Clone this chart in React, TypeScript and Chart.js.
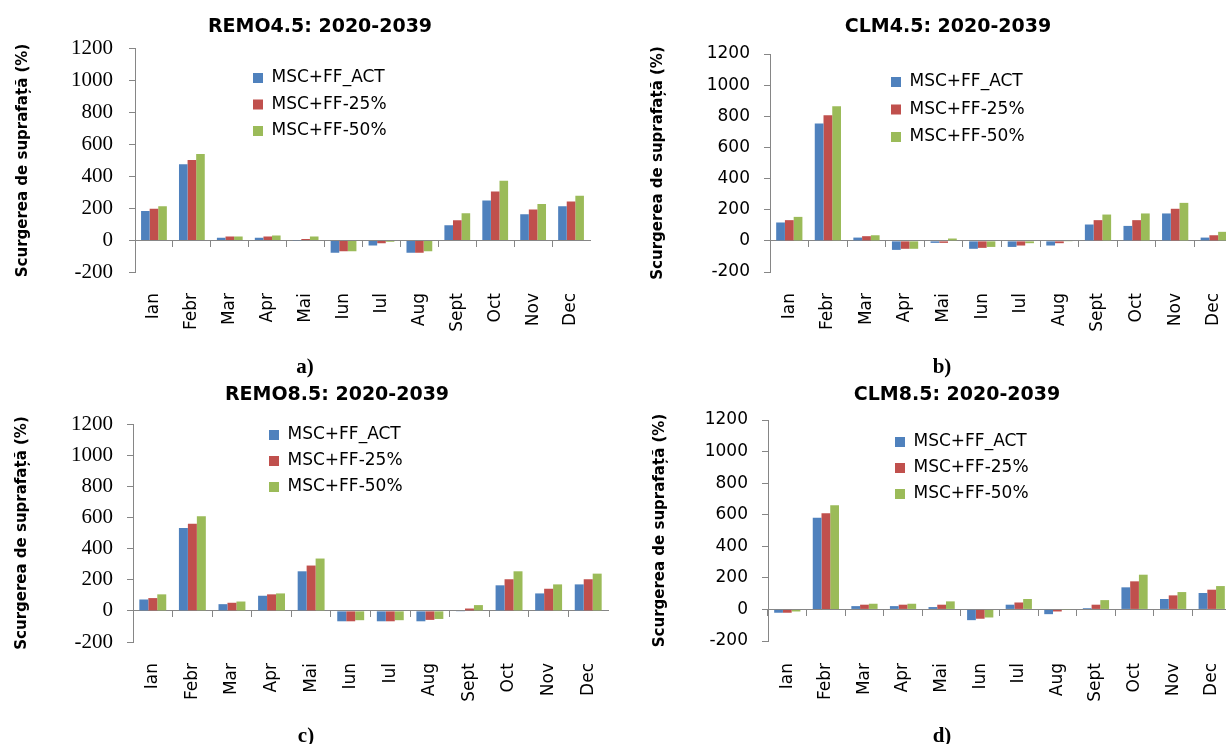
import React, { useEffect, useRef } from "react";
import { Chart, registerables } from "chart.js";

Chart.register(...registerables);

// Month categories shared by all four panels
const months = ["Ian", "Febr", "Mar", "Apr", "Mai", "Iun", "Iul", "Aug", "Sept", "Oct", "Nov", "Dec"];
const seriesNames = ["MSC+FF_ACT", "MSC+FF-25%", "MSC+FF-50%"];
const seriesColors = ["#4F81BD", "#C0504D", "#9BBB59"];
const yMin = -200;
const yMax = 1200;
const yStep = 200;

// REMO4.5: 2020-2039
const remo45Act = [185, 476, 17, 17, 2, -77, -31, -77, 96, 250, 164, 214];
const remo45Ff25 = [199, 503, 25, 25, 10, -67, -17, -77, 126, 306, 193, 243];
const remo45Ff50 = [214, 541, 25, 31, 25, -67, -8, -67, 170, 373, 228, 279];

// CLM4.5: 2020-2039
const clm45Act = [118, 754, 21, -58, -13, -51, -39, -30, 105, 96, 176, 21];
const clm45Ff25 = [133, 807, 30, -51, -13, -45, -30, -15, 133, 133, 206, 36];
const clm45Ff50 = [154, 865, 36, -51, 15, -39, -15, -2, 169, 176, 244, 58];

// REMO8.5: 2020-2039
const remo85Act = [73, 532, 43, 97, 254, -67, -67, -67, -2, 164, 112, 170];
const remo85Ff25 = [82, 560, 52, 106, 291, -67, -67, -58, 15, 203, 142, 203];
const remo85Ff50 = [106, 608, 60, 112, 336, -60, -60, -52, 37, 254, 170, 239];

// CLM8.5: 2020-2039
const clm85Act = [-21, 581, 21, 21, 15, -68, 30, -30, 8, 140, 66, 104];
const clm85Ff25 = [-21, 609, 30, 30, 30, -59, 44, -13, 30, 178, 89, 125];
const clm85Ff50 = [-13, 660, 36, 36, 51, -51, 66, -2, 59, 220, 110, 148];

const axisGray = "#868686";
const sansFamily = "'DejaVu Sans', 'Noto Sans', sans-serif";
const serifFamily = "'Liberation Serif', 'DejaVu Serif', serif";

type Layout = {
  left: number;
  top: number;
  width: number;
  height: number;
  yAxisWidth: number;
  rightGap: number;
  titleTop: number;
  titleBottom: number;
  xAxisHeight: number;
  xPad: number;
  yTitlePad: number;
  yTickPad: number;
  yTickSerif: boolean;
  legendX: number;
  legendY: number;
  legendPad: number;
};

type PanelCfg = {
  title: string;
  series: number[][];
  layout: Layout;
};

const panels: PanelCfg[] = [
  {
    title: "REMO4.5: 2020-2039",
    series: [remo45Act, remo45Ff25, remo45Ff50],
    layout: {
      left: 0, top: 0, width: 640, height: 345,
      yAxisWidth: 135, rightGap: 50,
      titleTop: 15.6, titleBottom: 10.1,
      xAxisHeight: 72.5, xPad: 20.5,
      yTitlePad: 14, yTickPad: 16, yTickSerif: true,
      legendX: 243.5, legendY: 60, legendPad: 9.5,
    },
  },
  {
    title: "CLM4.5: 2020-2039",
    series: [clm45Act, clm45Ff25, clm45Ff50],
    layout: {
      left: 640, top: 0, width: 616, height: 345,
      yAxisWidth: 130, rightGap: 20,
      titleTop: 15.6, titleBottom: 15.6,
      xAxisHeight: 73, xPad: 21,
      yTitlePad: 9, yTickPad: 14, yTickSerif: false,
      legendX: 240.5, legendY: 63, legendPad: 10.5,
    },
  },
  {
    title: "REMO8.5: 2020-2039",
    series: [remo85Act, remo85Ff25, remo85Ff50],
    layout: {
      left: 0, top: 370, width: 674, height: 345,
      yAxisWidth: 133, rightGap: 66,
      titleTop: 13.6, titleBottom: 17.6,
      xAxisHeight: 73, xPad: 21,
      yTitlePad: 13, yTickPad: 14, yTickSerif: true,
      legendX: 260, legendY: 47.5, legendPad: 9,
    },
  },
  {
    title: "CLM8.5: 2020-2039",
    series: [clm85Act, clm85Ff25, clm85Ff50],
    layout: {
      left: 640, top: 370, width: 634, height: 345,
      yAxisWidth: 128, rightGap: 43,
      titleTop: 13.6, titleBottom: 13.6,
      xAxisHeight: 74, xPad: 22,
      yTitlePad: 11, yTickPad: 14, yTickSerif: false,
      legendX: 246, legendY: 54.5, legendPad: 9,
    },
  },
];

const captions = [
  { text: "a)", x: 305, y: 366 },
  { text: "b)", x: 942, y: 366 },
  { text: "c)", x: 306, y: 735 },
  { text: "d)", x: 942, y: 735 },
];

function Panel({ cfg }: { cfg: PanelCfg }) {
  const ref = useRef<HTMLCanvasElement>(null);
  const L = cfg.layout;

  useEffect(() => {
    const canvas = ref.current;
    if (!canvas) return;

    // moves the legend block to its spot inside the plot area
    const placeLegend = {
      id: "placeLegend",
      afterLayout(chart: any) {
        const lg = chart.legend;
        if (!lg) return;
        lg.left = L.legendX;
        lg.top = L.legendY;
        lg.right = L.legendX + 220;
        lg.bottom = L.legendY + 160;
      },
    };

    const chart = new Chart(canvas, {
      type: "bar",
      data: {
        labels: months,
        datasets: cfg.series.map((vals, i) => ({
          label: seriesNames[i],
          data: vals,
          backgroundColor: seriesColors[i],
          borderColor: seriesColors[i],
          borderWidth: 0,
          categoryPercentage: 0.68,
          barPercentage: 1,
          xAxisID: "x",
          yAxisID: "y",
        })),
      },
      options: {
        responsive: false,
        animation: false,
        devicePixelRatio: 1,
        events: [],
        layout: { padding: 0 },
        plugins: {
          title: {
            display: true,
            text: cfg.title,
            color: "#000",
            font: { family: sansFamily, size: 19, weight: "bold" },
            padding: { top: L.titleTop, bottom: L.titleBottom },
          },
          legend: {
            position: "chartArea",
            align: "start",
            labels: {
              boxWidth: 10,
              boxHeight: 10,
              padding: L.legendPad,
              color: "#000",
              font: { family: sansFamily, size: 17 },
            },
          },
          tooltip: { enabled: false },
        },
        scales: {
          x: {
            type: "category",
            position: "bottom",
            offset: true,
            grid: { display: false, drawTicks: false },
            border: { display: false },
            ticks: {
              autoSkip: false,
              minRotation: 90,
              maxRotation: 90,
              padding: L.xPad,
              color: "#000",
              font: { family: sansFamily, size: 17 },
            },
            afterFit: (s: any) => {
              s.height = L.xAxisHeight;
            },
          },
          x0: {
            type: "category",
            position: { y: 0 },
            offset: true,
            grid: {
              display: true,
              offset: true,
              drawOnChartArea: false,
              drawTicks: true,
              tickLength: 6,
              lineWidth: 1,
              color: (ctx: any) => (ctx.type === "tick" ? axisGray : "rgba(0,0,0,0)"),
            },
            border: { display: true, color: axisGray, width: 1 },
            ticks: { display: false },
            afterFit: (s: any) => {
              s.height = 0;
            },
          },
          y: {
            type: "linear",
            position: "left",
            min: yMin,
            max: yMax,
            grid: {
              drawOnChartArea: false,
              drawTicks: true,
              tickLength: 6,
              color: axisGray,
            },
            border: { display: true, color: axisGray, width: 1 },
            ticks: {
              stepSize: yStep,
              padding: L.yTickPad,
              color: "#000",
              callback: (v: any) => String(v),
              font: L.yTickSerif
                ? { family: serifFamily, size: 21 }
                : { family: sansFamily, size: 17 },
            },
            title: {
              display: true,
              text: "Scurgerea de suprafață (%)",
              color: "#000",
              font: { family: sansFamily, size: 15, weight: "bold" },
              padding: { top: L.yTitlePad, bottom: 0 },
            },
            afterFit: (s: any) => {
              s.width = L.yAxisWidth;
            },
          },
          yR: {
            type: "linear",
            position: "right",
            display: true,
            grid: { display: false, drawTicks: false },
            border: { display: false },
            ticks: { display: false },
            afterFit: (s: any) => {
              s.width = L.rightGap;
            },
          },
        },
      } as any,
      plugins: [placeLegend],
    });

    return () => chart.destroy();
  }, []);

  return (
    <canvas
      ref={ref}
      width={L.width}
      height={L.height}
      style={{ position: "absolute", left: L.left, top: L.top }}
    />
  );
}

export default function App() {
  return (
    <div
      style={{
        position: "absolute",
        left: 0,
        top: 0,
        width: 1226,
        height: 744,
        overflow: "hidden",
        background: "#fff",
      }}
    >
      {panels.map((p) => (
        <Panel key={p.title} cfg={p} />
      ))}
      {captions.map((c) => (
        <div
          key={c.text}
          style={{
            position: "absolute",
            left: c.x,
            top: c.y,
            transform: "translate(-50%, -50%)",
            fontFamily: "'Liberation Serif', 'Times New Roman', serif",
            fontWeight: "bold",
            fontSize: 21,
            color: "#000",
            lineHeight: 1,
          }}
        >
          {c.text}
        </div>
      ))}
    </div>
  );
}
